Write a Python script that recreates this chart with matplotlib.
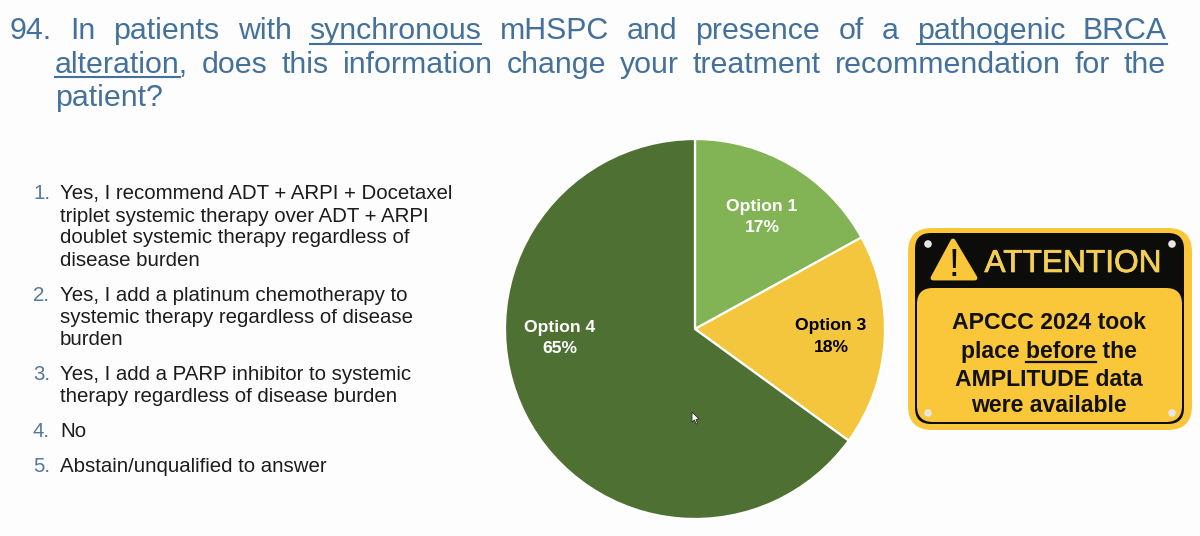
import matplotlib
matplotlib.use("Agg")
import matplotlib.pyplot as plt
import matplotlib.patheffects as pe
from matplotlib.patches import FancyBboxPatch, Polygon, Circle

plt.rcParams['font.family'] = ['Liberation Sans', 'DejaVu Sans']
plt.rcParams['text.hinting'] = 'no_autohint'
plt.rcParams['text.hinting_factor'] = 8

title_lines = [
    "94. In patients with synchronous mHSPC and presence of a pathogenic BRCA",
    "alteration, does this information change your treatment recommendation for the",
]
title_last = "patient?"

answers = [
    ["Yes, I recommend ADT + ARPI + Docetaxel", "triplet systemic therapy over ADT + ARPI",
     "doublet systemic therapy regardless of", "disease burden"],
    ["Yes, I add a platinum chemotherapy to", "systemic therapy regardless of disease", "burden"],
    ["Yes, I add a PARP inhibitor to systemic", "therapy regardless of disease burden"],
    ["No"],
    ["Abstain/unqualified to answer"],
]
answer_baselines = [
    [199, 222, 243, 266],
    [301, 323, 345],
    [380, 402],
    [437],
    [472],
]

options = ["Option 1", "Option 3", "Option 4"]
percents = [17, 18, 65]
slice_colors = ["#82b456", "#f4c63d", "#4f7033"]
label_colors = ["white", "black", "white"]
label_xy = [(762, 217.5), (831, 337), (560, 338.5)]

notice_lines = ["APCCC 2024 took", "place before the", "AMPLITUDE data", "were available"]
notice_baselines = [329, 358, 386, 412]

TITLE_BLUE = "#44719b"
NUM_BLUE = "#55799b"
SIGN_YELLOW = "#fac63a"
SIGN_BLACK = "#0c0c0a"

fig = plt.figure(figsize=(12, 5.36), dpi=100, facecolor="#fdfdfd")

# pie sits in its own axes, centre (695, 329), radius 190 px
cx, cy, r = 695, 329, 190
pie_ax = fig.add_axes([(cx - r) / 1200, 1 - (cy + r) / 536, 2 * r / 1200, 2 * r / 536])
pie_ax.pie(percents, colors=slice_colors, startangle=90, counterclock=False, radius=1,
           wedgeprops={"edgecolor": "white", "linewidth": 1.6})
pie_ax.set_xlim(-1, 1)
pie_ax.set_ylim(-1, 1)

# overlay in pixel coordinates for all the text and the sign
ax = fig.add_axes([0, 0, 1, 1], zorder=5)
ax.set_xlim(0, 1200)
ax.set_ylim(536, 0)
ax.axis("off")
ax.patch.set_alpha(0)

renderer = fig.canvas.get_renderer()


def text_width(s, size, weight="normal"):
    t = ax.text(0, 0, s, fontsize=size, fontweight=weight)
    w = t.get_window_extent(renderer).width
    t.remove()
    return w


def justified(line, x0, x1, y, size, color):
    words = line.split(" ")
    widths = [text_width(w, size) for w in words]
    gap = (x1 - x0 - sum(widths)) / (len(words) - 1)
    xs = {}
    x = x0
    for w, wd in zip(words, widths):
        ax.text(x, y, w, fontsize=size, color=color, va="baseline", ha="left")
        xs[w] = (x, x + wd)
        x += wd + gap
    return xs


TITLE_SIZE = 21.8
line1 = justified(title_lines[0], 10, 1167, 39, TITLE_SIZE, TITLE_BLUE)
line2 = justified(title_lines[1], 55, 1166, 73, TITLE_SIZE, TITLE_BLUE)
ax.text(55, 106, title_last, fontsize=TITLE_SIZE, color=TITLE_BLUE, va="baseline")

# underlines
ax.plot(line1["synchronous"], [44, 44], color=TITLE_BLUE, lw=1.5)
ax.plot([line1["pathogenic"][0], line1["BRCA"][1]], [44, 44], color=TITLE_BLUE, lw=1.5)
x_alt = line2["alteration,"][0]
ax.plot([x_alt, x_alt + text_width("alteration", TITLE_SIZE)], [77, 77], color=TITLE_BLUE, lw=1.5)

# numbered answers
for i, (rows, ys) in enumerate(zip(answers, answer_baselines)):
    ax.text(33, ys[0], f"{i + 1}.", fontsize=14.7, color=NUM_BLUE, va="baseline")
    for row, y in zip(rows, ys):
        ax.text(60, y, row, fontsize=14.7, color="#1c1c1c", va="baseline")

# slice labels
for name, p, c, (x, y) in zip(options, percents, label_colors, label_xy):
    ax.text(x, y, f"{name}\n{p}%", fontsize=12.6, fontweight="bold", color=c,
            ha="center", va="center", linespacing=1.48)

# mouse pointer on the dark slice
ax.add_patch(Polygon([(692, 412), (692, 422), (694.5, 420), (696, 424), (697.5, 423.5),
                      (696, 419.5), (699, 419)], closed=True, facecolor="white",
                     edgecolor="#2a2a2a", lw=0.6))

# warning sign: yellow plate, black frame, yellow panel
ax.add_patch(FancyBboxPatch((928, 248), 244, 162, boxstyle="round,pad=20,rounding_size=24",
                            facecolor=SIGN_YELLOW, edgecolor="none"))
ax.add_patch(FancyBboxPatch((929, 247), 241, 163, boxstyle="round,pad=14,rounding_size=16",
                            facecolor=SIGN_BLACK, edgecolor="none"))
ax.add_patch(FancyBboxPatch((931, 302), 237, 106, boxstyle="round,pad=14,rounding_size=16",
                            facecolor=SIGN_YELLOW, edgecolor="none"))
ax.add_patch(Polygon([(953, 241), (933, 278), (975, 278)], closed=True, facecolor=SIGN_YELLOW,
                     edgecolor=SIGN_YELLOW, lw=3.5, joinstyle="round"))
ax.text(953.5, 276, "!", fontsize=28, color=SIGN_BLACK, ha="center", va="baseline")
ax.text(1073, 272, "ATTENTION", fontsize=22.8, color="#f3cf55", ha="center", va="baseline",
        path_effects=[pe.withStroke(linewidth=0.5, foreground="#f3cf55")])
for x, y in [(928, 244), (1172, 244), (928, 413), (1172, 413)]:
    ax.add_patch(Circle((x, y), 3.8, facecolor="#e6e6e2", edgecolor="none"))

for row, y in zip(notice_lines, notice_baselines):
    ax.text(1049, y, row, fontsize=16.6, fontweight="bold", color="#12120c",
            ha="center", va="baseline")

# "before" underlined in the second row of the notice
row_w = text_width(notice_lines[1], 16.6, "bold")
end = 1049 - row_w / 2 + text_width("place before", 16.6, "bold")
start = end - text_width("before", 16.6, "bold")
ax.plot([start, end], [362, 362], color="#12120c", lw=1.6)

fig.savefig("out.png", dpi=100, facecolor=fig.get_facecolor())
